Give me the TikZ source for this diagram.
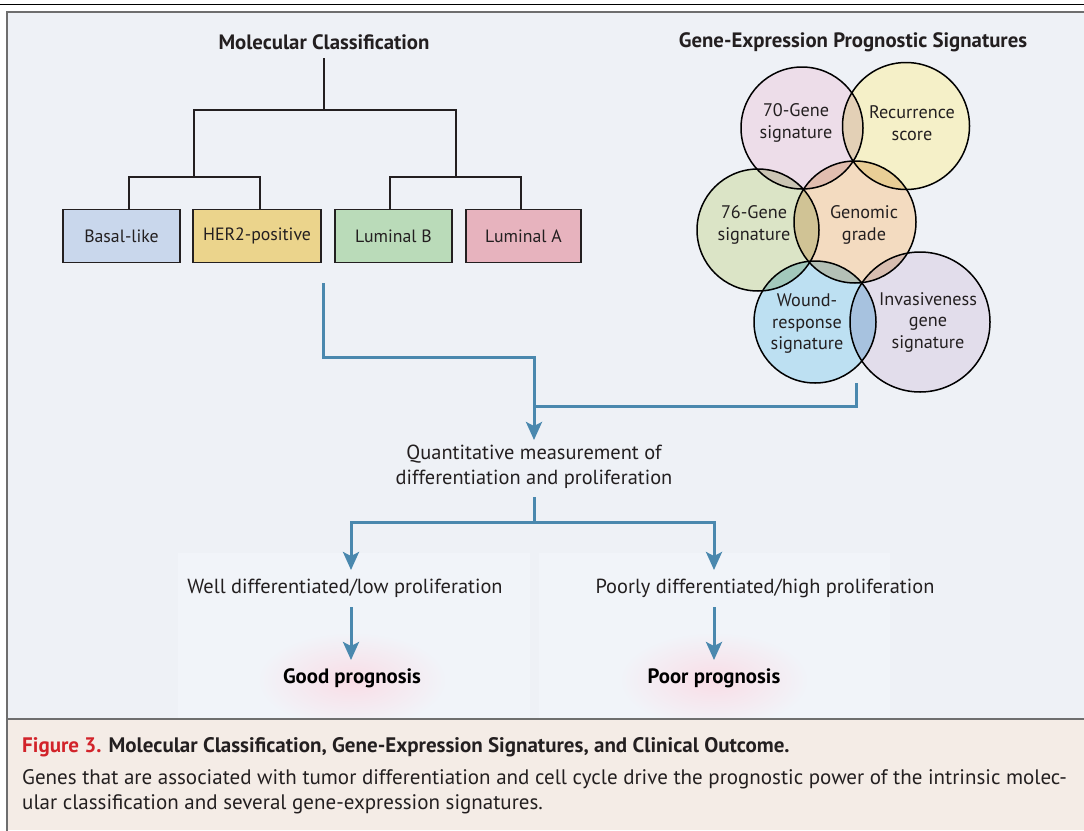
\documentclass[tikz,border=0pt]{standalone}
\usepackage{fontspec}
\setmainfont{PT Sans}
\usetikzlibrary{arrows.meta}
\definecolor{bg}{HTML}{EEF1F6}
\definecolor{panel}{HTML}{F1F4F9}
\definecolor{capbg}{HTML}{F4ECE6}
\definecolor{framegray}{HTML}{6E6E6E}
\definecolor{txt}{HTML}{231F20}
\definecolor{flow}{HTML}{4A88AE}
\definecolor{cBasal}{HTML}{C9D7EC}
\definecolor{cHer}{HTML}{EBD48C}
\definecolor{cLumB}{HTML}{BADBB9}
\definecolor{cLumA}{HTML}{E7B3BE}
\definecolor{v70}{HTML}{EDDDE9}
\definecolor{vRec}{HTML}{F5F0C8}
\definecolor{v76}{HTML}{DBE4C6}
\definecolor{vGen}{HTML}{F3DBC0}
\definecolor{vWnd}{HTML}{BDE0F2}
\definecolor{vInv}{HTML}{E2DDEB}
\definecolor{glow}{HTML}{F9DDE6}
\definecolor{figred}{HTML}{D2232A}
\begin{document}
\begin{tikzpicture}[x=1pt,y=-1pt,
  txtstyle/.style={text=txt,inner sep=0pt,font=\fontsize{20.4}{25}\selectfont,align=center},
  titlestyle/.style={text=txt,inner sep=0pt,font=\fontsize{20.8}{24}\selectfont\bfseries},
  classbox/.style={draw=txt,line width=1.6pt,minimum height=53pt,inner sep=0pt,text=txt,font=\fontsize{17.8}{20}\selectfont},
  tree/.style={draw=txt,line width=1.3pt},
  venn/.style={circle,draw=black,line width=1.5pt,inner sep=0pt},
  vlabel/.style={text=txt,inner sep=0pt,align=center,font=\fontsize{18.2}{21.5}\selectfont},
  flowline/.style={draw=flow,line width=3pt},
  flowarrow/.style={flowline,-{Stealth[length=18pt,width=16pt,inset=4pt]}},
  prog/.style={text=black,inner sep=0pt,font=\fontsize{20.8}{24}\selectfont\bfseries},
  capstyle/.style={anchor=base west,inner sep=0pt,text=txt,font=\fontsize{21}{25}\selectfont}
]
\useasboundingbox (0,0) rectangle (1084,830);
\fill[white] (0,0) rectangle (1084,830);
\draw[black,line width=1.5pt] (0,4.5) -- (1084,4.5);
% main frame
\fill[bg] (7,12) rectangle (1090,719);
\fill[panel] (178,553) rectangle (530,718);
\fill[panel] (539,553) rectangle (890,718);
\begin{scope}
\clip (178,553) rectangle (890,718);
\shade[inner color=glow,outer color=panel] (352,680) ellipse (95pt and 48pt);
\shade[inner color=glow,outer color=panel] (714,680) ellipse (95pt and 48pt);
\end{scope}
\fill[capbg] (7,719) rectangle (1090,830);
\draw[framegray,line width=2pt] (1090,12) -- (7,12) -- (7,831);
\draw[framegray,line width=2pt] (7,719) -- (1090,719);

% Molecular classification
\node[titlestyle] (mc) at (324,42) {Molecular Classification};
\node[classbox,fill=cBasal,minimum width=117pt] (basal) at (121.5,236) {Basal-like};
\node[classbox,fill=cHer,minimum width=128pt] (her) at (257,236) {HER2-positive};
\node[classbox,fill=cLumB,minimum width=117pt] (lumb) at (393.5,236) {Luminal B};
\node[classbox,fill=cLumA,minimum width=115pt] (luma) at (523.5,236) {Luminal A};
\coordinate (top) at (324,58);
\coordinate (j1) at (324,110);
\coordinate (jl) at (194,177);
\coordinate (jr) at (456,177);
\draw[draw=txt,line width=2.2pt] (top) -- (j1);
\draw[tree] (jl) |- (j1) -| (jr);
\draw[tree] (basal.north -| 129,0) |- (jl) -| (her.north -| 260,0);
\draw[tree] (lumb.north -| 390,0) |- (jr) -| (luma.north -| 521,0);

% Venn
\node[titlestyle] (gep) at (853,42) {Gene-Expression Prognostic Signatures};
\begin{scope}[blend group=multiply]
\node[venn,fill=v70,minimum size=122pt] (c70) at (802,128) {};
\node[venn,fill=vRec,minimum size=127pt] (crec) at (906,126) {};
\node[venn,fill=v76,minimum size=122pt] (c76) at (758,230) {};
\node[venn,fill=vGen,minimum size=122pt] (cgen) at (855,222) {};
\node[venn,fill=vWnd,minimum size=122pt] (cwnd) at (815,322) {};
\node[venn,fill=vInv,minimum size=140pt] (cinv) at (920,322) {};
\end{scope}
\node[vlabel] (l70) at (796,123) {70-Gene\\signature};
\node[vlabel] (lrec) at (912,123) {Recurrence\\score};
\node[vlabel] (l76) at (754,225) {76-Gene\\signature};
\node[vlabel] (lgen) at (864,225) {Genomic\\grade};
\node[vlabel] (lwnd) at (807,324) {Wound-\\response\\signature};
\node[vlabel] (linv) at (928,322) {Invasiveness\\gene\\signature};

% flow
\node[txtstyle] (q) at (534,467) {Quantitative measurement of\\differentiation and proliferation};
\coordinate (s1) at (323,283);
\coordinate (s2) at (856,383);
\coordinate (m1) at (534,406);
\coordinate (qa) at (534,440);
\draw[flowline] (s1) |- (534,357) -- (m1);
\draw[flowline] (s2) |- (m1);
\draw[flowarrow] (m1) -- (qa);
\node[txtstyle] (well) at (345,588) {Well differentiated/low proliferation};
\node[txtstyle] (poor) at (765,588) {Poorly differentiated/high proliferation};
\coordinate (q0) at (534,497);
\coordinate (qs) at (534,522);
\coordinate (wa) at (351,570);
\coordinate (pa) at (714,570);
\draw[flowline] (q0) -- (qs);
\draw[flowarrow] (qs) -| (wa);
\draw[flowarrow] (qs) -| (pa);
\node[prog] (good) at (352,678) {Good prognosis};
\node[prog] (bad) at (714,678) {Poor prognosis};
\coordinate (w0) at (351,607);
\coordinate (w1) at (351,660);
\coordinate (p0) at (714,607);
\coordinate (p1) at (714,660);
\draw[flowarrow] (w0) -- (w1);
\draw[flowarrow] (p0) -- (p1);

% caption
\node[capstyle,font=\fontsize{21}{25}\selectfont\bfseries] (cap1) at (22,752)
  {\textcolor{figred}{Figure 3.} \textcolor{txt}{Molecular Classification, Gene-Expression Signatures, and Clinical Outcome.}};
\node[capstyle] (cap2) at (22,784)
  {Genes that are associated with tumor differentiation and cell cycle drive the prognostic power of the intrinsic molec-};
\node[capstyle] (cap3) at (22,809)
  {ular classification and several gene-expression signatures.};
\end{tikzpicture}
\end{document}
